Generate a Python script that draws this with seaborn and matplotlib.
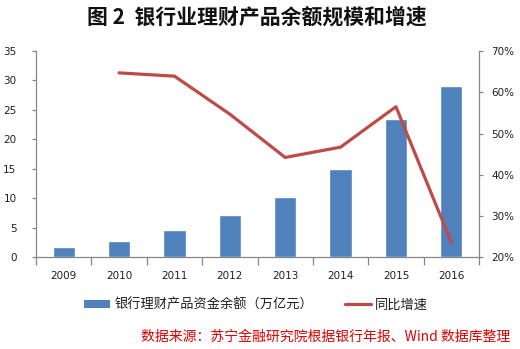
import numpy as np
import pandas as pd
import matplotlib
matplotlib.use("Agg")
import matplotlib.pyplot as plt
from matplotlib.patches import Patch
from matplotlib.lines import Line2D
from matplotlib.ticker import FuncFormatter, MultipleLocator
import seaborn as sns

# Bank wealth-management product balance (trillion yuan) and year-on-year growth (%)
years = ["2009", "2010", "2011", "2012", "2013", "2014", "2015", "2016"]
balance = [1.7, 2.8, 4.59, 7.1, 10.24, 15.02, 23.5, 29.05]
growth = [np.nan, 64.7, 63.9, 54.7, 44.2, 46.7, 56.5, 23.6]

title_text = "图 2  银行业理财产品余额规模和增速"
bar_label = "银行理财产品资金余额（万亿元）"
line_label = "同比增速"
source_text = "数据来源：苏宁金融研究院根据银行年报、Wind 数据库整理"

bar_color = "#4F81BD"
line_color = "#BE4B48"
axis_color = "#868686"
text_color = "#1f1f1f"

sns.set_theme(style="white")
plt.rcParams["font.family"] = ["DejaVu Sans", "Noto Sans CJK SC"]
cjk = ["Noto Sans CJK SC", "DejaVu Sans"]

df = pd.DataFrame({"year": years, "balance": balance, "growth": np.array(growth) / 100})

fig = plt.figure(figsize=(5.2, 3.49), dpi=100)
ax = fig.add_axes([36 / 520, 1 - 257.3 / 349, (479 - 36) / 520, (257.3 - 51) / 349])
ax2 = ax.twinx()

sns.barplot(data=df, x="year", y="balance", order=years, color=bar_color,
            width=0.4, saturation=1, ax=ax, zorder=2)
sns.pointplot(data=df, x="year", y="growth", order=years, color=line_color,
              errorbar=None, markers="", linestyles="-", ax=ax2,
              lw=2.3, zorder=3)

# left axis
ax.set_ylim(0, 35)
ax.yaxis.set_major_locator(MultipleLocator(5))
ax.set_xlim(-0.5, len(years) - 0.5)
ax.set_xlabel("")
ax.set_ylabel("")
ax2.set_xlabel("")
ax2.set_ylabel("")

# right axis
ax2.set_ylim(0.2, 0.7)
ax2.yaxis.set_major_locator(MultipleLocator(0.1))
ax2.yaxis.set_major_formatter(FuncFormatter(lambda v, p: f"{v * 100:.0f}%"))

# category labels centred, tick marks on the category boundaries
ax.set_xticks(range(len(years)))
ax.set_xticklabels(years)
ax.set_xticks(np.arange(-0.5, len(years), 1), minor=True)
ax.tick_params(axis="x", which="major", length=0, pad=10, labelsize=7.5,
               labelcolor=text_color)
ax.tick_params(axis="x", which="minor", length=5.5, width=0.9,
               color=axis_color, direction="out", bottom=True)
ax.tick_params(axis="y", which="major", length=3, width=0.9, color=axis_color,
               direction="out", left=True, pad=11, labelsize=7.5,
               labelcolor=text_color)
ax2.tick_params(axis="y", which="major", length=3, width=0.9, color=axis_color,
                direction="out", right=True, pad=6, labelsize=7.5,
                labelcolor=text_color)

for a in (ax, ax2):
    for side in ("top", "right", "left", "bottom"):
        a.spines[side].set_visible(False)
    a.grid(False)
ax.spines["left"].set_visible(True)
ax.spines["bottom"].set_visible(True)
ax2.spines["right"].set_visible(True)
for sp in (ax.spines["left"], ax.spines["bottom"], ax2.spines["right"]):
    sp.set_color(axis_color)
    sp.set_linewidth(0.9)

fig.text(257 / 520, 1 - 17 / 349, title_text, ha="center", va="center",
         fontsize=15, fontweight="bold", family=cjk, color="#111111")

handles = [Patch(facecolor=bar_color, edgecolor="none", label=bar_label),
           Line2D([0], [0], color=line_color, lw=2.3, label=line_label)]
fig.legend(handles=handles, loc="center", bbox_to_anchor=(256 / 520, 1 - 305 / 349),
           ncol=2, frameon=False, prop={"family": cjk, "size": 9.5},
           handlelength=2.0, handleheight=0.55, handletextpad=0.3,
           columnspacing=2.4, labelcolor=text_color)

fig.text(510 / 520, 1 - 337 / 349, source_text, ha="right", va="center",
         fontsize=10, family=cjk, style="italic", color="#E00000")

fig.savefig("out.png", dpi=100)
